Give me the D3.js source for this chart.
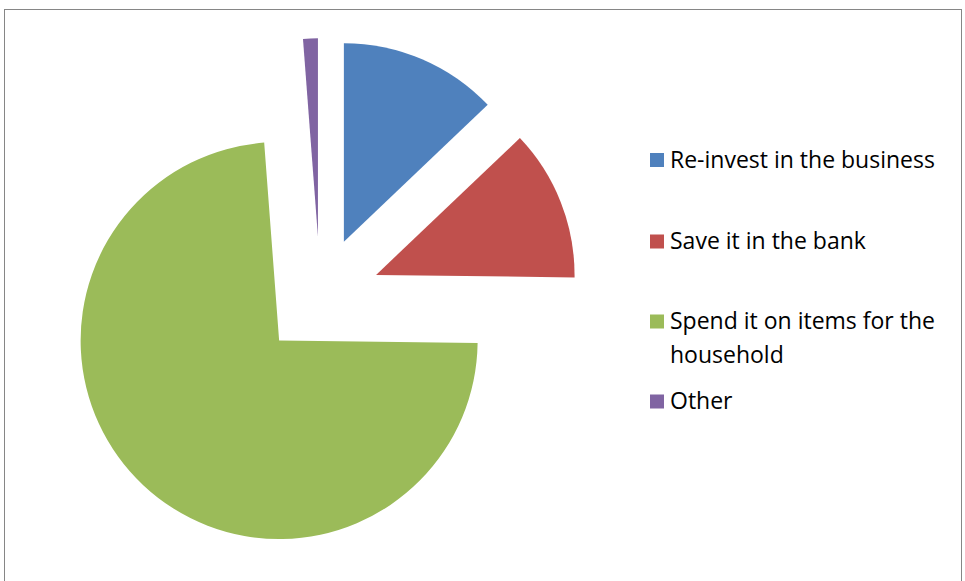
<!DOCTYPE html>
<html>
<head>
<meta charset="utf-8">
<script src="https://cdn.jsdelivr.net/npm/d3@7"></script>
<style>
  html, body { margin: 0; padding: 0; background: #fff; }
  svg { display: block; }
</style>
</head>
<body>
<svg id="chart" width="965" height="581"></svg>
<script>
// What people would do with extra money (share of responses, %)
const categories = ["Re-invest in the business", "Save it in the bank", "Spend it on items for the household", "Other"];
const values = [12.9, 12.3, 73.6, 1.2];
const colors = ["#4F81BD", "#C0504D", "#9BBB59", "#8064A2"];
// Legend text split into display lines
const legendLines = [["Re-invest in the business"], ["Save it in the bank"], ["Spend it on items for the", "household"], ["Other"]];

const svg = d3.select("#chart");

// Chart frame
svg.append("rect")
  .attr("x", 4.5).attr("y", 9.5)
  .attr("width", 957).attr("height", 620)
  .attr("fill", "#fff")
  .attr("stroke", "#868686")
  .attr("stroke-width", 1);

const cx = 320.2, cy = 296.8, radius = 198.5, explode = 60;

const pie = d3.pie().sort(null).value(d => d)(values);
const arc = d3.arc().innerRadius(0).outerRadius(radius);

const g = svg.append("g").attr("transform", `translate(${cx},${cy})`);

g.selectAll("path.slice")
  .data(pie)
  .join("path")
  .attr("class", "slice")
  .attr("d", arc)
  .attr("fill", (d, i) => colors[i])
  .attr("transform", d => {
    const a = (d.startAngle + d.endAngle) / 2;
    return `translate(${explode * Math.sin(a)},${-explode * Math.cos(a)})`;
  });

// Legend
const legendY = [160, 241.5, 321.5, 401.5];
const legend = svg.append("g")
  .attr("font-family", "'Open Sans', sans-serif")
  .attr("font-size", 23)
  .attr("fill", "#000");

categories.forEach((c, i) => {
  const item = legend.append("g");
  item.append("rect")
    .attr("x", 650).attr("y", legendY[i] - 7)
    .attr("width", 14).attr("height", 14)
    .attr("fill", colors[i]);
  const t = item.append("text")
    .attr("x", 670).attr("y", legendY[i] + 7.5);
  legendLines[i].forEach((line, j) => {
    t.append("tspan")
      .attr("x", 670)
      .attr("dy", j === 0 ? 0 : 33.5)
      .text(line);
  });
});
</script>
</body>
</html>
